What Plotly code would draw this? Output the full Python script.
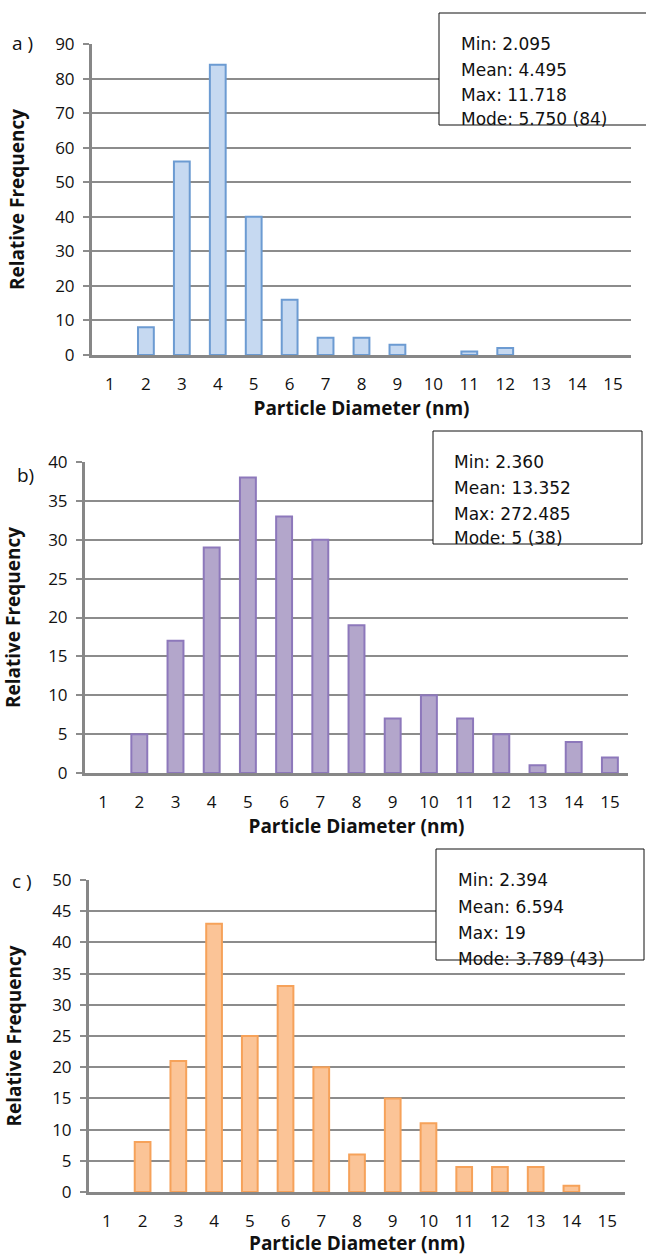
import plotly.graph_objects as go

diameters = list(range(1, 16))
freq_a = [0, 8, 56, 84, 40, 16, 5, 5, 3, 0, 1, 2, 0, 0, 0]
freq_b = [0, 5, 17, 29, 38, 33, 30, 19, 7, 10, 7, 5, 1, 4, 2]
freq_c = [0, 8, 21, 43, 25, 33, 20, 6, 15, 11, 4, 4, 4, 1, 0]

stats_a = ["Min: 2.095", "Mean: 4.495", "Max: 11.718", "Mode: 5.750 (84)"]
stats_b = ["Min: 2.360", "Mean: 13.352", "Max: 272.485", "Mode: 5 (38)"]
stats_c = ["Min: 2.394", "Mean: 6.594", "Max: 19", "Mode: 3.789 (43)"]

labels = ["a )", "b)", "c )"]

W, H = 646, 1256

def px_x(x):
    return x / W

def px_y(y):
    return 1 - y / H

panels = [
    dict(data=freq_a, fill="#C6D9F1", line="#6C9BD2", xd=(92, 631), yd=(355, 44), ymax=90, dtick=10,
         box=(439, 13, 660, 125), tx=459, ty=[44, 70, 95, 119], stats=stats_a, lab=(22, 43)),
    dict(data=freq_b, fill="#B3A6CB", line="#8D78BB", xd=(85, 628), yd=(773, 462), ymax=40, dtick=5,
         box=(433, 431, 642, 544), tx=452, ty=[462, 488, 514, 538], stats=stats_b, lab=(25, 475)),
    dict(data=freq_c, fill="#FBC497", line="#F6A25A", xd=(89, 625), yd=(1192, 880), ymax=50, dtick=5,
         box=(436, 849, 644, 960), tx=456, ty=[880, 907, 933, 959], stats=stats_c, lab=(22, 881)),
]

fig = go.Figure()
shapes = []
annotations = []
tick_font = dict(family="Open Sans, Lato, sans-serif", size=17, color="#111111")
title_font = dict(family="Open Sans, sans-serif", size=19, color="#111111")

for i, p in enumerate(panels):
    n = "" if i == 0 else str(i + 1)
    fig.add_trace(go.Bar(
        x=diameters, y=[v if v else None for v in p["data"]], width=0.44,
        marker=dict(color=p["fill"], line=dict(color=p["line"], width=2)),
        xaxis="x" + n, yaxis="y" + n, showlegend=False,
    ))
    fig.update_layout(**{
        "xaxis" + n: dict(
            domain=[px_x(p["xd"][0]), px_x(p["xd"][1])], anchor="y" + n,
            range=[0.5, 15.5], tickmode="array", tickvals=diameters,
            showline=True, linecolor="#878787", linewidth=3, showgrid=False,
            ticks="", tickfont=tick_font, ticklabelstandoff=12, automargin=False,
            title=dict(text="<b>Particle Diameter (nm)</b>", font=title_font, standoff=7),
            fixedrange=True,
        ),
        "yaxis" + n: dict(
            domain=[px_y(p["yd"][0]), px_y(p["yd"][1])], anchor="x" + n,
            range=[0, p["ymax"]], dtick=p["dtick"], tick0=0,
            showline=True, linecolor="#878787", linewidth=3,
            showgrid=True, gridcolor="#8C8C8C", gridwidth=2,
            ticks="outside", ticklen=6, tickwidth=2, tickcolor="#8C8C8C",
            tickfont=tick_font, ticklabelstandoff=5, automargin=False,
            zeroline=False,
            title=dict(text="<b>Relative Frequency</b>", font=title_font, standoff=26),
            fixedrange=True,
        ),
    })
    x0, y0, x1, y1 = p["box"]
    shapes.append(dict(type="rect", xref="paper", yref="paper",
                       x0=px_x(x0), x1=px_x(x1), y0=px_y(y1), y1=px_y(y0),
                       line=dict(color="#111111", width=1), fillcolor="white", layer="above"))
    for txt, ty in zip(p["stats"], p["ty"]):
        annotations.append(dict(text=txt, xref="paper", yref="paper", x=px_x(p["tx"]), y=px_y(ty),
                                xanchor="left", yanchor="middle", showarrow=False,
                                font=dict(family="DejaVu Sans, sans-serif", size=17, color="#111111")))
    annotations.append(dict(text=labels[i], xref="paper", yref="paper", x=px_x(p["lab"][0]), y=px_y(p["lab"][1]),
                            xanchor="center", yanchor="middle", showarrow=False,
                            font=dict(family="Open Sans, sans-serif", size=19, color="#111111")))

fig.update_layout(
    width=W, height=H, margin=dict(l=0, r=0, t=0, b=0, autoexpand=False),
    paper_bgcolor="white", plot_bgcolor="white",
    shapes=shapes, annotations=annotations, bargap=0.5,
)
fig.write_html("out.html", config={"displayModeBar": False, "staticPlot": True},
               post_script="document.body.style.margin='0px';document.body.style.overflow='hidden';")
